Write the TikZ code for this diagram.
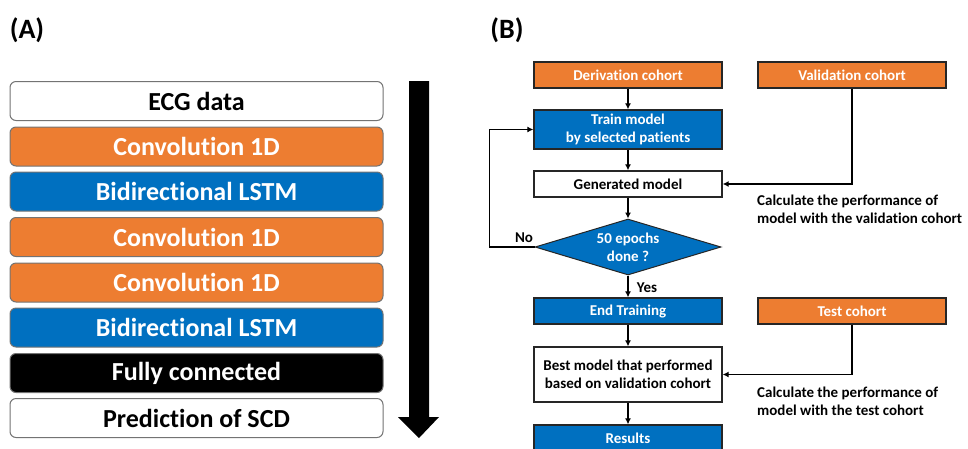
\documentclass[tikz,border=0pt]{standalone}
\usepackage{fontspec}
\setmainfont{Carlito}[RawFeature={-liga;-clig;-dlig}]
\usetikzlibrary{arrows.meta,shapes.geometric}
\definecolor{office orange}{HTML}{ED7D31}
\definecolor{office blue}{HTML}{0070C0}
\begin{document}
\begin{tikzpicture}[x=1pt,y=-1pt,
  layer/.style={draw=black!55,line width=1pt,rounded corners=6pt,
    minimum width=373pt,minimum height=39pt,inner sep=0pt,
    font=\fontsize{26}{28}\selectfont\bfseries},
  whitelayer/.style={layer,fill=white,text=black},
  convlayer/.style={layer,fill=office orange,text=white},
  lstmlayer/.style={layer,fill=office blue,text=white},
  denselayer/.style={layer,fill=black,text=white},
  flowbox/.style={draw=black!85,line width=1.3pt,minimum width=188pt,
    inner sep=0pt,align=center,font=\fontsize{15}{18}\selectfont\bfseries},
  cohort/.style={flowbox,fill=office orange,text=white,minimum height=26pt},
  stepblue/.style={flowbox,fill=office blue,text=white},
  stepwhite/.style={flowbox,fill=white,text=black},
  decision/.style={diamond,draw=black!85,line width=1pt,fill=office blue,
    text=white,aspect=3.3,minimum width=186pt,minimum height=56pt,
    inner sep=0pt,align=center,font=\fontsize{15}{18}\selectfont\bfseries},
  note/.style={anchor=west,align=left,inner sep=0pt,
    font=\fontsize{15}{18}\selectfont\bfseries},
  panel/.style={font=\fontsize{28}{30}\selectfont\bfseries},
  arr/.style={line width=1.5pt,-{Latex[length=6pt,width=6pt]}},
  plain/.style={line width=1.5pt}]
\useasboundingbox (0,0) rectangle (968,448);

% panel letters
\node[panel] (labA) at (27,30) {(A)};
\node[panel] (labB) at (507,30) {(B)};

% (A) network layers
\node[whitelayer] (ecg)   at (196.5,101)   {ECG data};
\node[convlayer]  (conv1) at (196.5,146.5) {Convolution 1D};
\node[lstmlayer]  (lstm1) at (196.5,191.5) {Bidirectional LSTM};
\node[convlayer]  (conv2) at (196.5,237)   {Convolution 1D};
\node[convlayer]  (conv3) at (196.5,282.5) {Convolution 1D};
\node[lstmlayer]  (lstm2) at (196.5,327.5) {Bidirectional LSTM};
\node[denselayer] (fc)    at (196.5,373)   {Fully connected};
\node[whitelayer] (pred)  at (196.5,418)   {Prediction of SCD};

% data-flow arrow beside the layers
\fill[black] (409,81) -- (429,81) -- (429,417) -- (439,417) -- (419,438)
  -- (398,417) -- (409,417) -- cycle;

% (B) training flow chart
\node[cohort] (der)  at (628,75)  {Derivation cohort};
\node[cohort] (val)  at (852,75)  {Validation cohort};
\node[stepblue,minimum height=39pt] (train) at (628,129.5)
  {Train model\\by selected patients};
\node[stepwhite,minimum height=26pt] (gen) at (628,184) {Generated model};
\node[decision] (dia) at (628,247) {50 epochs\\done ?};
\node[stepblue,minimum height=26pt] (endt) at (628,311) {End Training};
\node[cohort] (test) at (852,311) {Test cohort};
\node[stepwhite,minimum height=55pt] (best) at (628,374.5)
  {Best model that performed\\based on validation cohort};
\node[stepblue,minimum height=26pt] (res) at (628,438) {Results};

\node[note] (calcval) at (757,209)
  {Calculate the performance of\\model with the validation cohort};
\node[note] (calctest) at (757,401)
  {Calculate the performance of\\model with the test cohort};

\draw[arr] (der) -- (train);
\draw[arr] (train) -- (gen);
\draw[arr] (gen) -- (dia);
\draw[arr] (dia) -- (endt);
\draw[arr] (endt) -- (best);
\draw[arr] (best) -- (res);
\draw[arr] (val.south) |- (gen.east);
\draw[arr] (test.south) |- (best.east);
\draw[arr] (dia.west) -- ++(-45,0) |- (train.west);

\node[font=\fontsize{15}{18}\selectfont\bfseries] (no) at (524,238) {No};
\node[font=\fontsize{15}{18}\selectfont\bfseries] (yes) at (647,288) {Yes};
\end{tikzpicture}
\end{document}
